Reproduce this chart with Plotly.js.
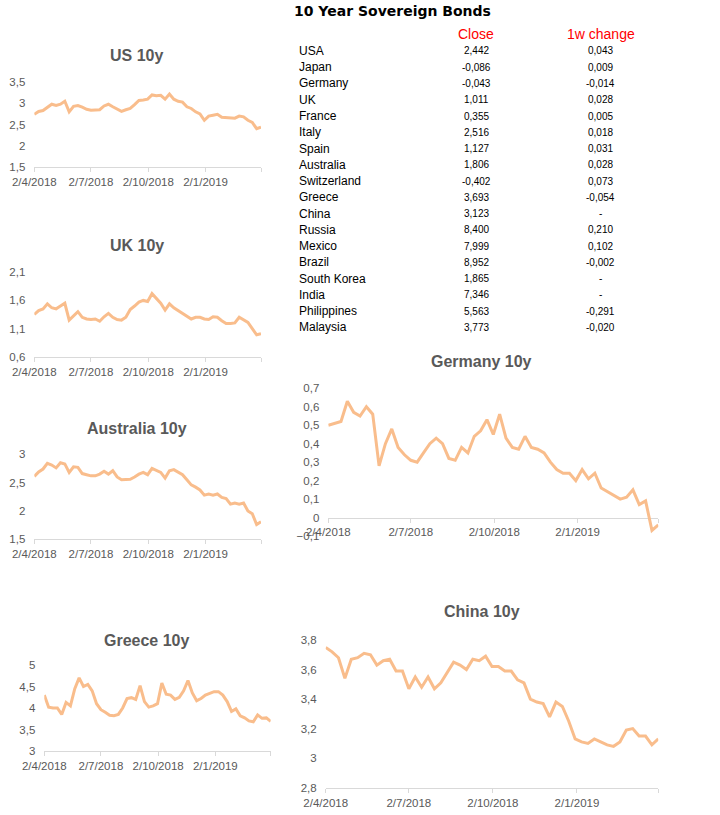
<!DOCTYPE html>
<html>
<head>
<meta charset="utf-8">
<script src="https://cdn.plot.ly/plotly-3.0.1.min.js"></script>
<style>html,body{margin:0;padding:0;background:#fff}#chart{width:720px;height:815px}</style>
</head>
<body>
<div id="chart"></div>
<script>
// ---- data ----
const dates = ['2018-04-02','2018-04-09','2018-04-16','2018-04-23','2018-04-30','2018-05-07','2018-05-14','2018-05-21','2018-05-28','2018-06-04','2018-06-11','2018-06-18','2018-06-25','2018-07-02','2018-07-09','2018-07-16','2018-07-23','2018-07-30','2018-08-06','2018-08-13','2018-08-20','2018-08-27','2018-09-03','2018-09-10','2018-09-17','2018-09-24','2018-10-01','2018-10-08','2018-10-15','2018-10-22','2018-10-29','2018-11-05','2018-11-12','2018-11-19','2018-11-26','2018-12-03','2018-12-10','2018-12-17','2018-12-24','2018-12-31','2019-01-07','2019-01-14','2019-01-21','2019-01-28','2019-02-04','2019-02-11','2019-02-18','2019-02-25','2019-03-04','2019-03-11','2019-03-18','2019-03-25','2019-04-01'];
const us10y = [2.74,2.81,2.83,2.90,2.98,2.95,2.98,3.05,2.80,2.93,2.95,2.91,2.86,2.84,2.84,2.85,2.94,2.98,2.92,2.87,2.81,2.85,2.88,2.97,3.07,3.08,3.10,3.20,3.18,3.19,3.10,3.22,3.10,3.05,3.03,2.92,2.88,2.80,2.75,2.60,2.70,2.72,2.74,2.67,2.66,2.66,2.65,2.70,2.68,2.60,2.55,2.40,2.44];
const uk10y = [1.35,1.42,1.45,1.54,1.47,1.45,1.50,1.55,1.25,1.32,1.40,1.30,1.27,1.26,1.27,1.23,1.31,1.37,1.30,1.26,1.25,1.30,1.44,1.50,1.57,1.60,1.58,1.72,1.64,1.55,1.43,1.54,1.47,1.42,1.38,1.33,1.27,1.30,1.30,1.27,1.26,1.31,1.30,1.24,1.19,1.19,1.20,1.30,1.25,1.21,1.10,0.99,1.01];
const au10y = [2.61,2.69,2.74,2.84,2.81,2.76,2.85,2.83,2.68,2.78,2.77,2.66,2.64,2.62,2.62,2.65,2.70,2.65,2.71,2.60,2.55,2.55,2.56,2.60,2.65,2.68,2.64,2.75,2.72,2.68,2.58,2.71,2.73,2.68,2.64,2.55,2.46,2.42,2.37,2.28,2.30,2.28,2.30,2.24,2.22,2.12,2.14,2.12,2.14,2.00,1.95,1.76,1.81];
const gr10y = [4.30,4.02,4.00,4.00,3.85,4.13,4.05,4.45,4.70,4.50,4.55,4.40,4.10,3.96,3.90,3.83,3.82,3.85,4.00,4.22,4.24,4.20,4.52,4.15,4.02,4.05,4.10,4.58,4.32,4.30,4.20,4.25,4.40,4.64,4.35,4.17,4.22,4.30,4.34,4.38,4.38,4.30,4.15,3.92,3.98,3.82,3.77,3.70,3.68,3.84,3.76,3.77,3.69];
const de10y = [0.50,0.51,0.52,0.63,0.57,0.55,0.60,0.56,0.28,0.40,0.48,0.38,0.34,0.31,0.30,0.35,0.40,0.43,0.40,0.32,0.31,0.38,0.35,0.44,0.47,0.53,0.45,0.56,0.43,0.38,0.37,0.44,0.38,0.37,0.35,0.30,0.26,0.24,0.24,0.20,0.26,0.21,0.24,0.16,0.14,0.12,0.10,0.11,0.15,0.07,0.09,-0.07,-0.04];
const cn10y = [3.75,3.72,3.68,3.54,3.67,3.68,3.71,3.70,3.63,3.66,3.67,3.59,3.59,3.47,3.55,3.48,3.55,3.47,3.51,3.58,3.65,3.63,3.60,3.67,3.66,3.69,3.62,3.62,3.59,3.59,3.53,3.51,3.40,3.38,3.37,3.28,3.38,3.35,3.25,3.13,3.11,3.10,3.13,3.11,3.09,3.08,3.11,3.19,3.20,3.15,3.15,3.09,3.13];

const tickDates = ['2018-04-02','2018-07-02','2018-10-02','2019-01-02','2019-04-01'];
const tickLabels = ['2/4/2018','2/7/2018','2/10/2018','2/1/2019',''];

const tableTitle = '10 Year Sovereign Bonds';
const colHeaders = ['Close','1w change'];
const countries = ['USA','Japan','Germany','UK','France','Italy','Spain','Australia','Switzerland','Greece','China','Russia','Mexico','Brazil','South Korea','India','Philippines','Malaysia'];
const closeVals = [2.442,-0.086,-0.043,1.011,0.355,2.516,1.127,1.806,-0.402,3.693,3.123,8.400,7.999,8.952,1.865,7.346,5.563,3.773];
const changeVals = [0.043,0.009,-0.014,0.028,0.005,0.018,0.031,0.028,0.073,-0.054,null,0.210,0.102,-0.002,null,null,-0.291,-0.020];

// ---- layout helpers ----
const W = 720, H = 815;
const fx = p => p / W;
const fy = p => 1 - p / H;
const LINE = '#f9bd8c';
const AX = '#595959';
const FONT = 'Liberation Sans, Arial, sans-serif';

const charts = [
  {title:'US 10y', y:us10y, l:34.3, r:261, t:82.3, b:166.7, yr:[1.5,3.5], dt:0.5, tx:136.7, ty:55},
  {title:'UK 10y', y:uk10y, l:34.3, r:261, t:272.3, b:356.7, yr:[0.6,2.1], dt:0.5, tx:136.7, ty:245},
  {title:'Australia 10y', y:au10y, l:34.3, r:261, t:454.3, b:539.3, yr:[1.5,3.0], dt:0.5, tx:136.7, ty:428.3},
  {title:'Greece 10y', y:gr10y, l:44.3, r:270.7, t:665, b:751, yr:[3,5], dt:0.5, tx:146.7, ty:640},
  {title:'Germany 10y', y:de10y, l:328.3, r:658.3, t:388.3, b:536, yr:[-0.1,0.7], dt:0.1, tx:481.7, ty:361.7, cross0:true},
  {title:'China 10y', y:cn10y, l:325.7, r:658.3, t:640, b:787.7, yr:[2.8,3.8], dt:0.2, tx:481.7, ty:611.7}
];

const traces = [];
const layout = {
  width: W, height: H,
  margin: {l:0, r:0, t:0, b:0},
  paper_bgcolor: '#fff', plot_bgcolor: 'rgba(0,0,0,0)',
  showlegend: false,
  separators: ',.',
  font: {family: FONT, color: AX},
  annotations: []
};

charts.forEach((c, i) => {
  const n = i + 1;
  const xa = 'xaxis' + (n === 1 ? '' : n), ya = 'yaxis' + (n === 1 ? '' : n);
  const xr = 'x' + (n === 1 ? '' : n), yr = 'y' + (n === 1 ? '' : n);
  traces.push({x: dates, y: c.y, xaxis: xr, yaxis: yr, type: 'scatter', mode: 'lines',
    line: {color: LINE, width: 3}, hoverinfo: 'skip'});
  const yb = fy(c.b), yt = fy(c.t);
  const xaxis = {
    domain: [fx(c.l), fx(c.r)], type: 'date', range: ['2018-04-02', '2019-04-01'],
    tickmode: 'array', tickvals: tickDates, ticktext: tickLabels,
    showgrid: false, zeroline: false, showline: true, linecolor: '#d9d9d9', linewidth: 1,
    ticks: 'outside', ticklen: 4, tickcolor: '#d9d9d9', tickwidth: 1,
    tickfont: {family: FONT, size: 11.5, color: AX}, anchor: yr, layer: 'below traces', fixedrange: true
  };
  if (c.cross0) {
    xaxis.anchor = 'free';
    xaxis.position = yb + (0 - c.yr[0]) / (c.yr[1] - c.yr[0]) * (yt - yb);
  }
  layout[xa] = xaxis;
  layout[ya] = {
    domain: [yb, yt], range: c.yr, dtick: c.dt, tick0: c.yr[0],
    showgrid: false, zeroline: false, showline: false, ticks: '',
    ticklabelstandoff: 8,
    tickfont: {family: FONT, size: 11.5, color: AX}, anchor: xr, fixedrange: true
  };
  layout.annotations.push({text: '<b>' + c.title + '</b>', xref: 'paper', yref: 'paper',
    x: fx(c.tx), y: fy(c.ty), xanchor: 'center', yanchor: 'middle', showarrow: false,
    font: {family: FONT, size: 16, color: AX}});
});

// ---- table as text ----
const fmt = v => v === null ? '-' : v.toFixed(3).replace('.', ',');
const rowY = i => 51 + 16.25 * i;
const colX = [476, 600.7];
layout.annotations.push({text: '<b>' + tableTitle + '</b>', xref: 'paper', yref: 'paper',
  x: fx(393), y: fy(11), xanchor: 'center', yanchor: 'middle', showarrow: false,
  font: {family: 'DejaVu Sans, Verdana, sans-serif', size: 14, color: '#000'}});
colHeaders.forEach((h, j) => layout.annotations.push({text: h, xref: 'paper', yref: 'paper',
  x: fx(colX[j]), y: fy(34.3), xanchor: 'center', yanchor: 'middle', showarrow: false,
  font: {family: FONT, size: 14, color: '#ff0000'}}));
countries.forEach((name, i) => {
  layout.annotations.push({text: name, xref: 'paper', yref: 'paper', x: fx(297.3), y: fy(rowY(i)),
    xanchor: 'left', yanchor: 'middle', showarrow: false, font: {family: FONT, size: 12, color: '#000'}});
  [closeVals[i], changeVals[i]].forEach((v, j) => layout.annotations.push({text: fmt(v), xref: 'paper', yref: 'paper',
    x: fx(colX[j]), y: fy(rowY(i)), xanchor: 'center', yanchor: 'middle', showarrow: false,
    font: {family: FONT, size: 10, color: '#000'}}));
});

Plotly.newPlot('chart', traces, layout, {staticPlot: true, displayModeBar: false});
</script>
</body>
</html>
